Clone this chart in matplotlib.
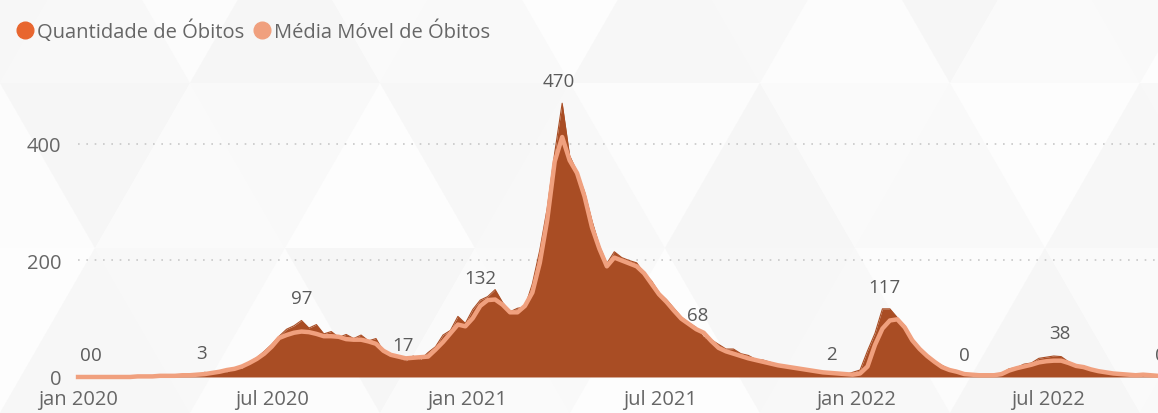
import matplotlib
matplotlib.use("Agg")
import matplotlib.pyplot as plt
import matplotlib.dates as mdates
from matplotlib.lines import Line2D
from matplotlib.patches import Polygon
import pandas as pd

plt.rcParams['font.family'] = ['Open Sans', 'DejaVu Sans']

# --- dados (leitura aproximada do gráfico, uma amostra por semana) ---
INICIO = '2020-01-01'

media_movel = [
    0, 0, 0, 0, 0, 0, 0, 0, 1, 1, 1, 2, 2, 2, 3, 3, 4, 5, 7, 9,
    12, 14, 18, 24, 31, 40, 52, 67, 72, 76, 78, 77, 74, 70, 70, 69, 65, 64, 64, 61,
    57, 45, 38, 35, 32, 33, 34, 35, 47, 60, 75, 90, 87, 101, 122, 132, 133, 124, 111, 111,
    122, 145, 196, 270, 370, 412, 372, 350, 310, 257, 220, 190, 205, 200, 195, 190, 178, 160, 142, 129,
    114, 100, 91, 82, 76, 62, 50, 44, 40, 36, 32, 29, 26, 23, 20, 18, 16, 14, 12, 10,
    8, 7, 6, 5, 4, 6, 18, 55, 83, 97, 99, 85, 63, 48, 36, 26, 17, 12, 9, 5,
    4, 3, 3, 3, 5, 11, 15, 18, 21, 25, 27, 28, 28, 24, 19, 17, 13, 10, 8, 6,
    5, 4, 3, 4, 3, 2,
]

quantidade = [
    0, 0, 0, 0, 0, 0, 0, 0, 0, 1, 0, 2, 1, 3, 2, 5, 3, 8, 6, 10,
    9, 16, 15, 26, 33, 44, 56, 70, 82, 88, 97, 84, 90, 74, 78, 68, 73, 66, 72, 62,
    66, 44, 40, 33, 28, 36, 30, 42, 52, 72, 80, 104, 92, 116, 132, 138, 150, 128, 112, 118,
    120, 160, 218, 290, 385, 470, 380, 352, 318, 268, 225, 195, 215, 205, 200, 196, 178, 165, 145, 133,
    118, 103, 93, 85, 68, 64, 56, 48, 48, 40, 37, 30, 29, 25, 21, 19, 17, 14, 13, 10,
    8, 6, 5, 4, 8, 12, 45, 75, 117, 117, 102, 88, 66, 50, 38, 27, 20, 13, 11, 6,
    4, 3, 4, 3, 6, 14, 16, 22, 24, 32, 34, 36, 35, 26, 20, 19, 13, 11, 8, 6,
    5, 4, 3, 5, 3, 2,
]

# rótulos de dados exibidos no gráfico
rotulo_datas = ['2020-01-08', '2020-01-18', '2020-04-26', '2020-07-29', '2020-11-01',
                '2021-01-13', '2021-03-28', '2021-08-05', '2021-12-09', '2022-01-28',
                '2022-04-13', '2022-07-12', '2022-10-14']
rotulo_valores = [0, 0, 3, 97, 17, 132, 470, 68, 2, 117, 0, 38, 0]

datas = pd.date_range(INICIO, periods=len(media_movel), freq='7D')

COR_AREA = '#a94d24'
COR_QTD = '#e8662f'
COR_MEDIA = '#f0a07e'
COR_TEXTO = '#666666'

fig = plt.figure(figsize=(11.58, 4.14), dpi=100, facecolor='#fbfbfb')

# fundo com triângulos bem claros (decorativo)
tons = ['#f8f8f8', '#fcfcfc', '#f6f6f6', '#fafafa', '#f9f9f9', '#fdfdfd', '#f7f7f7']
lado = 190
alt = 165
n = 0
for lin in range(-1, 4):
    for col in range(-1, 8):
        x0 = col * lado + (lado / 2 if lin % 2 else 0)
        y0 = lin * alt
        for tri in ([(x0, y0), (x0 + lado, y0), (x0 + lado / 2, y0 + alt)],
                    [(x0 + lado / 2, y0 + alt), (x0 + lado, y0), (x0 + 1.5 * lado, y0 + alt)]):
            fig.patches.append(Polygon(tri, closed=True, transform=None,
                                       facecolor=tons[n % len(tons)], edgecolor='none',
                                       zorder=-10))
            n += 1

ax = fig.add_axes([0.0674, 0.087, 0.9326, 0.7316])
ax.set_facecolor('none')

ax.fill_between(datas, quantidade, 0, color=COR_AREA, linewidth=0, zorder=2)
ax.plot(datas, quantidade, color=COR_AREA, linewidth=0.8, zorder=2)
ax.plot(datas, media_movel, color=COR_MEDIA, linewidth=3.2, zorder=3,
        solid_joinstyle='round', clip_on=False)

for d, v in zip(rotulo_datas, rotulo_valores):
    ax.annotate(str(v), (pd.Timestamp(d), v), xytext=(0, 16), textcoords='offset points',
                ha='center', va='center', fontsize=13.5, color='#5a5a5a',
                annotation_clip=False, zorder=4)

ax.set_xlim(pd.Timestamp('2020-01-01'), pd.Timestamp('2022-10-12'))
ax.set_ylim(0, 520)
ax.set_yticks([0, 200, 400])
ax.grid(axis='y', linestyle=(0, (1, 4)), color='#c8c8c8', linewidth=1.2, zorder=1)
ax.xaxis.set_major_locator(mdates.MonthLocator(bymonth=[1, 7]))
meses = {1: 'jan', 7: 'jul'}
ax.xaxis.set_major_formatter(plt.FuncFormatter(
    lambda x, pos: f"{meses[mdates.num2date(x).month]} {mdates.num2date(x).year}"))
ax.tick_params(axis='both', length=0, labelsize=14.5, labelcolor=COR_TEXTO)
ax.tick_params(axis='x', pad=9)
ax.tick_params(axis='y', pad=12)
for s in ax.spines.values():
    s.set_visible(False)

handles = [Line2D([], [], linestyle='none', marker='o', markersize=12, color=COR_QTD),
           Line2D([], [], linestyle='none', marker='o', markersize=12, color=COR_MEDIA)]
fig.legend(handles, ['Quantidade de Óbitos', 'Média Móvel de Óbitos'],
           loc='upper left', bbox_to_anchor=(0.004, 0.98), ncol=2, frameon=False,
           fontsize=14.5, labelcolor=COR_TEXTO, handlelength=0.8, handletextpad=0.2,
           columnspacing=0.5, borderaxespad=0.2)

fig.savefig('out.png', dpi=100, facecolor=fig.get_facecolor())
